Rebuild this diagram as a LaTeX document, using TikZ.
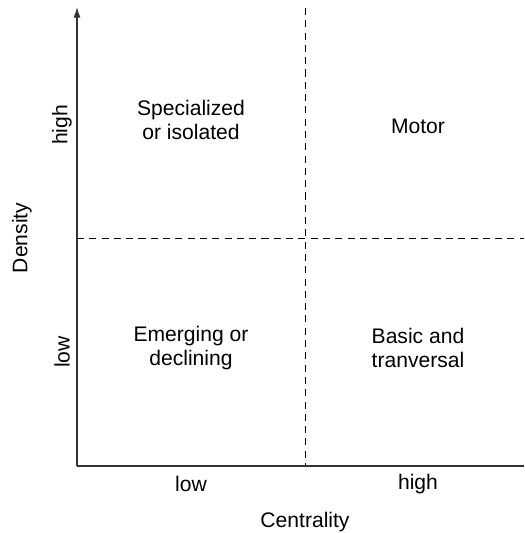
\documentclass[tikz,border=0pt]{standalone}
\usepackage{fontspec}
\setmainfont{Liberation Sans}
\usetikzlibrary{arrows.meta}
\tikzset{
  axis/.style={black!80,line width=0.8pt},
  split/.style={black,line width=0.5pt,dash pattern=on 4pt off 3pt},
  quad/.style={align=center,font=\fontsize{12}{13.5}\selectfont},
  lbl/.style={font=\fontsize{12}{13.5}\selectfont}
}

\begin{document}
\begin{tikzpicture}[x=0.02cm,y=-0.02cm]

\useasboundingbox (0,0) rectangle (524,533);

\coordinate (O) at (77,466);
\coordinate (Ytop) at (77,7);
\coordinate (Xend) at (524,466);
\coordinate (Vtop) at (305,8);
\coordinate (Vbot) at (305,466);
\coordinate (Hleft) at (77,238);
\coordinate (Hright) at (524,238);

\draw[axis,-{Latex[length=6pt,width=4pt]}] (O)--(Ytop);
\draw[axis] (O)--(Xend);
\draw[split] (Vtop)--(Vbot);
\draw[split] (Hleft)--(Hright);

\node[quad] (spec) at (191,120) {Specialized\\or isolated};
\node[quad] (motor) at (418,126) {Motor};
\node[quad] (emerg) at (191,348) {Emerging or\\declining};
\node[quad] (basic) at (418,348) {Basic and\\tranversal};

\node[lbl,rotate=90] (yhigh) at (62,125) {high};
\node[lbl,rotate=90] (ylow) at (62,352) {low};
\node[lbl,rotate=90] (ytitle) at (22,238) {Density};

\node[lbl] (xlow) at (191,484) {low};
\node[lbl] (xhigh) at (418,484) {high};
\node[lbl] (xtitle) at (305,522) {Centrality};

\end{tikzpicture}
\end{document}
